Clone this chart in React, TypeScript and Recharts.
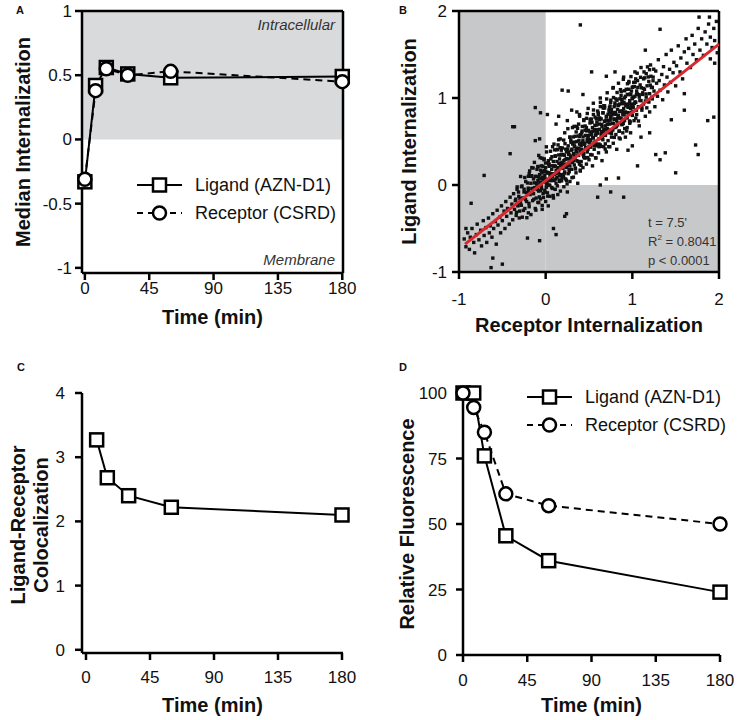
import React from 'react';
import {
  LineChart,
  Line,
  ScatterChart,
  Scatter,
  XAxis,
  YAxis,
  ReferenceArea,
  ReferenceLine,
  Legend,
  Label,
} from 'recharts';

// A, D: sampling times (min)
const timePoints = [0, 7.5, 15, 30, 60, 180];
const ligandInternalization = [-0.33, 0.42, 0.56, 0.51, 0.48, 0.49];
const receptorInternalization = [-0.31, 0.38, 0.55, 0.5, 0.53, 0.45];

// C
const colocTimes = [7.5, 15, 30, 60, 180];
const colocalization = [3.27, 2.68, 2.4, 2.22, 2.1];

// D
const ligandFluorescence = [100, 100, 76, 45.5, 36, 24];
const receptorFluorescence = [100, 94.5, 85, 61.5, 57, 50];

const timeTicks = [0, 45, 90, 135, 180];
const internalizationTicks = [-1, -0.5, 0, 0.5, 1];
const scatterTicks = [-1, 0, 1, 2];
const colocTicks = [0, 1, 2, 3, 4];
const fluorescenceTicks = [0, 25, 50, 75, 100];

// B: single cells at t = 7.5', [receptor, ligand]
const lowTail = [
  [-0.94, -0.62], [-0.92, -0.71], [-0.9, -0.55], [-0.88, -0.74], [-0.87, -0.6], [-0.85, -0.5], [-0.83, -0.66], [-0.82, -0.78], [-0.8, -0.57], [-0.79, -0.45],
  [-0.77, -0.63], [-0.75, -0.52], [-0.74, -0.7], [-0.72, -0.41], [-0.71, -0.58], [-0.69, -0.49], [-0.68, -0.66], [-0.66, -0.38], [-0.65, -0.55], [-0.64, -0.47],
  [-0.62, -0.6], [-0.61, -0.33], [-0.6, -0.5], [-0.58, -0.42], [-0.57, -0.68], [-0.56, -0.29], [-0.55, -0.46], [-0.53, -0.37], [-0.52, -0.55], [-0.51, -0.24],
  [-0.5, -0.41], [-0.48, -0.3], [-0.47, -0.5], [-0.46, -0.19], [-0.45, -0.36], [-0.44, -0.27], [-0.42, -0.45], [-0.41, -0.14], [-0.4, -0.32], [-0.39, -0.22],
  [-0.38, -0.4], [-0.37, -0.1], [-0.36, -0.28], [-0.35, -0.18], [-0.34, -0.35], [-0.33, -0.05], [-0.32, -0.24], [-0.31, -0.13], [-0.3, -0.3], [-0.29, -0.2],
  [-0.28, -0.02], [-0.27, -0.37], [-0.26, -0.15], [-0.25, -0.08], [-0.24, -0.27], [-0.23, 0.04], [-0.22, -0.19], [-0.21, -0.1], [-0.2, -0.32], [-0.2, 0.1],
];
const coreLow = [
  [-0.2, -0.06], [-0.19, -0.25], [-0.19, 0.13], [-0.18, -0.11], [-0.17, 0.02], [-0.17, -0.34], [-0.16, 0.2], [-0.16, -0.04], [-0.15, -0.18], [-0.14, 0.07],
  [-0.14, -0.1], [-0.13, 0.26], [-0.13, -0.03], [-0.12, -0.27], [-0.11, 0.1], [-0.11, -0.15], [-0.1, 0.18], [-0.1, 0.01], [-0.09, -0.2], [-0.09, 0.05],
  [-0.08, 0.34], [-0.08, -0.07], [-0.07, 0.12], [-0.06, -0.16], [-0.06, 0.03], [-0.05, 0.22], [-0.05, -0.02], [-0.04, -0.28], [-0.04, 0.09], [-0.03, 0.15],
  [-0.03, -0.1], [-0.02, 0.04], [-0.02, 0.29], [-0.01, -0.06], [-0.01, 0.11], [0, -0.19], [0, 0.07], [0, 0.2], [0.01, 0.01], [0.01, 0.38],
  [0.02, -0.09], [0.02, 0.14], [0.03, 0.06], [0.03, -0.24], [0.04, 0.24], [0.04, 0.0], [0.05, 0.11], [0.05, -0.13], [0.06, 0.3], [0.06, 0.08],
  [0.07, -0.03], [0.07, 0.18], [0.08, 0.13], [0.08, 0.44], [0.09, -0.15], [0.09, 0.05], [0.1, 0.22], [0.1, 0.12], [0.11, -0.05], [0.11, 0.33],
  [0.12, 0.17], [0.12, 0.02], [0.13, 0.27], [0.13, 0.09], [0.14, -0.11], [0.14, 0.2], [0.15, 0.52], [0.15, 0.14], [0.16, 0.04], [0.16, 0.3],
  [0.17, 0.22], [0.17, -0.07], [0.18, 0.12], [0.18, 0.4], [0.19, 0.26], [0.19, 0.08], [0.2, 0.19], [0.2, 0.35], [0.21, -0.02], [0.21, 0.28],
  [0.22, 0.15], [0.22, 0.6], [0.23, 0.24], [0.23, 0.07], [0.24, 0.38], [0.24, 0.2], [0.25, 0.3], [0.25, -0.08], [0.26, 0.13], [0.26, 0.45],
  [0.27, 0.26], [0.27, 0.35], [0.28, 0.04], [0.28, 0.22], [0.29, 0.51], [0.29, 0.31], [0.3, 0.18], [0.3, 0.4], [0.31, 0.27], [0.31, 0.66],
  [0.32, 0.09], [0.32, 0.36], [0.33, 0.45], [0.33, 0.23], [0.34, 0.32], [0.34, 0.56], [0.35, 0.14], [0.35, 0.39], [0.36, 0.28], [0.36, 0.5],
  [0.37, 0.42], [0.37, 0.02], [0.38, 0.34], [0.38, 0.7], [0.39, 0.24], [0.39, 0.47], [0.4, 0.38], [0.4, 0.58], [0.4, 0.16], [0.39, 0.81],
];
const coreHigh = [
  [0.41, 0.45], [0.41, 0.27], [0.42, 0.62], [0.42, 0.4], [0.43, 0.51], [0.43, 0.2], [0.44, 0.36], [0.44, 0.75], [0.45, 0.48], [0.45, 0.31],
  [0.46, 0.57], [0.46, 0.43], [0.47, 0.24], [0.47, 0.66], [0.48, 0.5], [0.48, 0.38], [0.49, 0.88], [0.49, 0.55], [0.5, 0.44], [0.5, 0.29],
  [0.51, 0.61], [0.51, 0.52], [0.52, 0.35], [0.52, 0.72], [0.53, 0.47], [0.53, 0.58], [0.54, 0.22], [0.54, 0.66], [0.55, 0.54], [0.55, 0.94],
  [0.56, 0.41], [0.56, 0.62], [0.57, 0.78], [0.57, 0.5], [0.58, 0.31], [0.58, 0.58], [0.59, 0.69], [0.59, 0.45], [0.6, 0.6], [0.6, 0.85],
  [0.61, 0.37], [0.61, 0.53], [0.62, 0.7], [0.62, 0.64], [0.63, 0.46], [0.63, 1.0], [0.64, 0.58], [0.64, 0.76], [0.65, 0.28], [0.65, 0.67],
  [0.66, 0.52], [0.66, 0.83], [0.67, 0.62], [0.67, 0.44], [0.68, 0.73], [0.68, 0.91], [0.69, 0.57], [0.69, 0.68], [0.7, 0.38], [0.7, 0.79],
  [0.71, 0.65], [0.71, 1.06], [0.72, 0.51], [0.72, 0.74], [0.73, 0.86], [0.73, 0.6], [0.74, 0.7], [0.74, 0.44], [0.75, 0.95], [0.75, 0.77],
  [0.76, 0.63], [0.76, 0.55], [0.77, 0.82], [0.77, 0.71], [0.78, 1.12], [0.78, 0.48], [0.79, 0.76], [0.79, 0.9], [0.8, 0.66], [0.8, 0.83],
  [0.81, 0.58], [0.81, 0.99], [0.82, 0.74], [0.82, 0.41], [0.83, 0.87], [0.83, 0.69], [0.84, 0.8], [0.84, 1.17], [0.85, 0.62], [0.85, 0.93],
  [0.86, 0.77], [0.86, 0.53], [0.87, 1.03], [0.87, 0.85], [0.88, 0.7], [0.88, 0.96], [0.89, 0.81], [0.89, 0.6], [0.9, 1.24], [0.9, 0.88],
  [0.91, 0.74], [0.91, 1.0], [0.92, 0.84], [0.92, 0.55], [0.93, 0.93], [0.93, 1.1], [0.94, 0.78], [0.94, 0.66], [0.95, 1.04], [0.95, 0.9],
  [0.96, 0.82], [0.96, 1.19], [0.97, 0.71], [0.97, 0.97], [0.98, 0.88], [0.98, 0.6], [0.99, 1.08], [0.99, 0.93], [1.0, 0.8], [1.0, 1.0],
];
const coreFill = [
  [-0.345, -0.163], [-0.337, -0.314], [-0.329, -0.022], [-0.321, -0.228], [-0.313, -0.081], [-0.305, -0.379], [-0.297, -0.153], [-0.289, 0.098],
  [-0.281, -0.233], [-0.273, -0.011], [-0.265, -0.152], [-0.257, -0.292], [-0.249, -0.048], [-0.241, 0.086], [-0.233, -0.168], [-0.225, -0.086],
  [-0.217, -0.376], [-0.209, 0.023], [-0.201, -0.036], [-0.193, -0.211], [-0.185, 0.162], [-0.177, -0.09], [-0.169, 0.1],
  [-0.161, 0.107], [-0.153, -0.07], [-0.145, 0.195], [-0.137, -0.164], [-0.129, 0.025], [-0.121, 0.097], [-0.113, -0.289], [-0.105, 0.015],
  [-0.097, -0.053], [-0.089, 0.213], [-0.081, 0.093], [-0.073, -0.137], [-0.065, 0.016], [-0.057, 0.17], [-0.049, -0.038], [-0.041, 0.307],
  [-0.033, 0.068], [-0.025, -0.144], [-0.017, 0.168], [-0.009, 0.034], [-0.001, 0.253], [0.007, -0.025], [0.015, 0.14],
  [0.023, 0.146], [0.031, 0.28], [0.039, 0.215], [0.047, 0.135], [0.055, 0.049], [0.063, 0.124], [0.071, 0.221], [0.079, 0.094],
  [0.087, -0.121], [0.095, 0.213], [0.103, 0.404], [0.111, 0.335], [0.119, 0.069], [0.127, 0.149], [0.135, -0.01], [0.143, 0.461],
  [0.151, 0.345], [0.159, 0.058], [0.167, 0.428], [0.175, 0.25], [0.183, 0.353], [0.191, 0.111], [0.199, 0.226],
  [0.207, 0.098], [0.215, 0.342], [0.223, 0.475], [0.231, 0.222], [0.239, 0.304], [0.247, 0.013], [0.255, 0.413], [0.263, 0.354],
  [0.271, 0.179], [0.279, 0.551], [0.287, 0.3], [0.295, 0.49], [0.303, 0.412], [0.311, 0.26], [0.319, 0.552], [0.327, 0.347],
  [0.335, 0.493], [0.343, 0.195], [0.351, 0.421], [0.359, 0.673], [0.367, 0.341], [0.375, 0.563], [0.383, 0.423],
  [0.391, 0.557], [0.399, 0.171], [0.407, 0.475], [0.415, 0.407], [0.423, 0.673], [0.431, 0.553], [0.439, 0.323], [0.447, 0.476],
  [0.455, 0.63], [0.463, 0.422], [0.471, 0.767], [0.479, 0.528], [0.487, 0.316], [0.495, 0.628], [0.503, 0.495], [0.511, 0.713],
  [0.519, 0.435], [0.527, 0.6], [0.535, 0.721], [0.543, 0.545], [0.551, 0.81], [0.559, 0.451], [0.567, 0.639],
  [0.575, 0.572], [0.583, 0.471], [0.591, 0.725], [0.599, 0.636], [0.607, 0.828], [0.615, 0.471], [0.623, 0.771], [0.631, 0.901],
  [0.639, 0.444], [0.647, 0.615], [0.655, 0.549], [0.663, 0.829], [0.671, 0.911], [0.679, 0.733], [0.687, 0.413], [0.695, 0.642],
  [0.703, 0.782], [0.711, 0.698], [0.719, 0.637], [0.727, 0.737], [0.735, 0.829], [0.743, 0.908], [0.751, 0.788],
  [0.759, 0.867], [0.767, 0.807], [0.775, 0.632], [0.783, 1.005], [0.791, 0.753], [0.799, 0.943], [0.807, 0.835], [0.815, 0.684],
  [0.823, 0.975], [0.831, 0.77], [0.839, 0.917], [0.847, 0.618], [0.855, 0.844], [0.863, 1.096], [0.871, 0.765], [0.879, 0.986],
  [0.887, 0.846], [0.895, 0.706], [0.903, 0.95], [0.911, 1.083], [0.919, 0.83], [0.927, 0.912], [0.935, 0.621],
  [0.943, 1.04], [0.951, 0.832], [0.959, 1.177], [0.967, 0.938], [0.975, 0.726], [0.983, 1.038], [0.991, 0.904], [0.999, 1.123],
  [1.007, 0.845], [1.015, 1.01], [1.023, 1.131], [1.031, 0.955], [1.039, 1.22], [1.047, 0.86], [1.055, 1.049], [1.063, 1.122],
  [1.071, 0.736], [1.079, 1.039], [1.087, 0.971], [1.095, 1.238], [1.103, 1.118], [1.111, 0.887], [1.119, 1.041],
  [1.127, 1.11], [1.135, 1.3], [1.143, 1.232], [1.151, 0.966], [1.159, 1.046], [1.167, 0.887], [1.175, 1.358], [1.183, 1.242],
  [1.191, 0.954], [1.199, 1.325], [1.207, 1.147], [1.215, 1.25], [1.223, 1.008], [1.231, 1.123], [1.239, 1.198], [1.247, 1.331],
];
const coreDense = [
  [-0.096, -0.033], [-0.088, 0.21], [-0.08, -0.202], [-0.072, 0.071], [-0.064, 0.314], [-0.056, -0.064], [-0.048, 0.139], [-0.04, -0.235],
  [-0.032, 0.215], [-0.024, 0.071], [-0.016, 0.3], [-0.008, -0.083], [0.0, 0.158], [0.008, 0.439], [0.016, 0.03], [0.024, -0.128],
  [0.032, 0.244], [0.04, 0.138], [0.048, -0.005], [0.056, 0.388], [0.064, 0.116], [0.072, 0.325], [0.08, -0.04], [0.088, 0.27],
  [0.096, 0.47], [0.104, 0.058], [0.112, 0.216], [0.12, 0.132], [0.128, 0.404],
  [0.136, 0.41], [0.144, 0.152], [0.152, 0.25], [0.16, 0.105], [0.168, 0.53], [0.176, 0.344], [0.184, 0.048], [0.192, 0.426],
  [0.2, 0.23], [0.208, 0.516], [0.216, 0.136], [0.224, 0.292], [0.232, 0.412], [0.24, 0.054], [0.248, 0.225], [0.256, 0.647],
  [0.264, 0.38], [0.272, 0.152], [0.28, 0.548], [0.288, 0.333], [0.296, 0.491], [0.304, 0.084], [0.312, 0.471], [0.32, 0.282],
  [0.328, 0.674], [0.336, 0.443], [0.344, 0.184], [0.352, 0.61], [0.36, 0.38],
  [0.368, 0.652], [0.376, 0.27], [0.384, 0.511], [0.392, 0.791], [0.4, 0.383], [0.408, 0.225], [0.416, 0.596], [0.424, 0.49],
  [0.432, 0.348], [0.44, 0.741], [0.448, 0.468], [0.456, 0.678], [0.464, 0.313], [0.472, 0.622], [0.48, 0.822], [0.488, 0.411],
  [0.496, 0.569], [0.504, 0.484], [0.512, 0.756], [0.52, 0.515], [0.528, 0.758], [0.536, 0.345], [0.544, 0.618], [0.552, 0.862],
  [0.56, 0.483], [0.568, 0.686], [0.576, 0.313], [0.584, 0.763], [0.592, 0.618],
  [0.6, 0.596], [0.608, 0.806], [0.616, 0.44], [0.624, 0.75], [0.632, 0.95], [0.64, 0.539], [0.648, 0.696], [0.656, 0.612],
  [0.664, 0.884], [0.672, 0.642], [0.68, 0.885], [0.688, 0.473], [0.696, 0.746], [0.704, 0.989], [0.712, 0.611], [0.72, 0.814],
  [0.728, 0.441], [0.736, 0.89], [0.744, 0.746], [0.752, 0.975], [0.76, 0.592], [0.768, 0.833], [0.776, 1.114], [0.784, 0.706],
  [0.792, 0.547], [0.8, 0.919], [0.808, 0.813], [0.816, 0.67], [0.824, 1.063],
  [0.832, 0.712], [0.84, 0.915], [0.848, 0.541], [0.856, 0.991], [0.864, 0.847], [0.872, 1.075], [0.88, 0.693], [0.888, 0.934],
  [0.896, 1.215], [0.904, 0.806], [0.912, 0.648], [0.92, 1.02], [0.928, 0.914], [0.936, 0.771], [0.944, 1.164], [0.952, 0.892],
  [0.96, 1.101], [0.968, 0.736], [0.976, 1.046], [0.984, 1.246], [0.992, 0.834], [1.0, 0.992], [1.008, 0.908], [1.016, 1.179],
  [1.024, 0.938], [1.032, 1.181], [1.04, 0.769], [1.048, 1.041], [1.056, 1.285],
];
const highTail = [
  [1.01, 0.89], [1.01, 1.13], [1.02, 0.74], [1.03, 1.02], [1.03, 1.3], [1.04, 0.95], [1.05, 0.81], [1.05, 1.08], [1.06, 1.2], [1.07, 0.9],
  [1.08, 1.01], [1.08, 0.68], [1.09, 1.15], [1.1, 0.97], [1.1, 1.35], [1.11, 0.86], [1.12, 1.06], [1.13, 1.22], [1.13, 0.93], [1.14, 1.1],
  [1.15, 0.79], [1.16, 1.01], [1.16, 1.28], [1.17, 1.14], [1.18, 0.96], [1.19, 1.19], [1.2, 1.05], [1.2, 0.84], [1.21, 1.38], [1.22, 1.12],
  [1.23, 0.99], [1.24, 1.24], [1.25, 1.08], [1.26, 0.9], [1.27, 1.31], [1.28, 1.17], [1.29, 1.02], [1.3, 1.44], [1.31, 1.2], [1.32, 1.09],
  [1.34, 1.27], [1.35, 0.98], [1.36, 1.36], [1.37, 1.15], [1.39, 1.5], [1.4, 1.24], [1.41, 1.07], [1.43, 1.33], [1.44, 1.18], [1.45, 1.55],
  [1.47, 1.29], [1.48, 1.41], [1.5, 1.14], [1.51, 1.37], [1.53, 1.6], [1.55, 1.3], [1.56, 1.46], [1.58, 1.22], [1.6, 1.53], [1.62, 1.68],
  [1.63, 1.4], [1.65, 1.57], [1.67, 1.35], [1.69, 1.72], [1.7, 1.5], [1.72, 1.62], [1.74, 1.44], [1.76, 1.8], [1.78, 1.55], [1.8, 1.68],
  [1.82, 1.49], [1.84, 1.76], [1.86, 1.62], [1.88, 1.85], [1.9, 1.7], [1.92, 1.58], [1.94, 1.8], [1.95, 1.66], [1.97, 1.88], [1.98, 1.52],
];
const strays = [
  [0.4, 1.84], [0.19, 1.09], [0.26, 1.08], [0.43, 1.04], [-0.12, 0.89], [-0.06, 0.83], [0.02, 0.81], [-0.36, 0.67], [-0.38, 0.67], [-0.07, 0.53],
  [-0.12, 0.51], [0.15, 0.79], [0.25, 0.74], [0.12, 0.7], [0.3, 0.86], [0.36, 0.84], [1.32, 1.79], [1.77, 1.93], [1.89, 1.93], [1.87, 0.74],
  [0.53, 1.3], [1.73, 0.46], [1.76, 0.35], [1.5, 0.14], [1.27, 0.35], [1.32, 0.29], [1.38, 0.37], [1.06, 0.22], [0.6, -0.14], [0.75, -0.08],
  [0.9, -0.14], [0.63, 0.0], [0.7, 0.07], [0.84, 0.08], [-0.61, -0.84], [-0.63, -0.95], [-0.5, -0.91], [-0.86, -0.21], [-0.71, 0.11], [-0.41, 0.36],
  [-0.92, -0.5], [0.09, -0.5], [0.12, -0.57], [0.22, -0.36], [0.24, -0.33], [-0.07, -0.64], [-0.21, -0.61], [1.1, 0.55], [1.2, 0.6], [1.45, 0.75],
  [1.6, 1.05], [1.0, 0.45], [0.95, 0.4], [1.15, 1.55], [0.8, 1.3], [0.7, 1.25], [1.9, 1.45], [1.95, 1.4], [1.6, 0.86], [1.94, 0.78],
];

// regression line ends
const fitX = [-0.93, 2];
const fitY = [-0.68, 1.62];

const panelA = timePoints.map((t, i) => ({ t, ligand: ligandInternalization[i], receptor: receptorInternalization[i] }));
const panelC = colocTimes.map((t, i) => ({ t, coloc: colocalization[i] }));
const panelD = timePoints.map((t, i) => ({ t, ligand: ligandFluorescence[i], receptor: receptorFluorescence[i] }));
const cells = [...lowTail, ...coreLow, ...coreHigh, ...coreFill, ...coreDense, ...highTail, ...strays].map(([x, y]) => ({ x, y }));
const fit = fitX.map((x, i) => ({ x, y: fitY[i] }));

const FONT = '"Liberation Sans", Arial, Helvetica, sans-serif';
const tickStyle = { fontSize: 17, fill: '#111', fontFamily: FONT };
const axisStroke = { stroke: '#000', strokeWidth: 2.5 };
const titleStyle = { fontSize: 20, fontWeight: 700, fill: '#111', fontFamily: FONT };

const squareDot = (p: any) => (
  <rect key={`sq-${p.index}`} x={p.cx - 6.5} y={p.cy - 6.5} width={13} height={13} fill="#fff" stroke="#000" strokeWidth={2.5} />
);
const circleDot = (p: any) => (
  <circle key={`ci-${p.index}`} cx={p.cx} cy={p.cy} r={6.5} fill="#fff" stroke="#000" strokeWidth={2.5} />
);
const cellDot = (p: any) => <rect x={p.cx - 1.7} y={p.cy - 1.7} width={3.4} height={3.4} fill="#111" />;

const SeriesKey = () => (
  <svg width={215} height={48} style={{ overflow: 'visible', display: 'block' }}>
    <line x1={0} x2={45} y1={9} y2={9} stroke="#000" strokeWidth={2} />
    <rect x={16} y={2.5} width={13} height={13} fill="#fff" stroke="#000" strokeWidth={2.5} />
    <text x={58} y={9} dominantBaseline="central" fontSize={18} fill="#111" fontFamily={FONT}>
      Ligand (AZN-D1)
    </text>
    <line x1={0} x2={45} y1={37} y2={37} stroke="#000" strokeWidth={2} strokeDasharray="6 5" />
    <circle cx={22.5} cy={37} r={6.5} fill="#fff" stroke="#000" strokeWidth={2.5} />
    <text x={58} y={37} dominantBaseline="central" fontSize={18} fill="#111" fontFamily={FONT}>
      Receptor (CSRD)
    </text>
  </svg>
);

const ColocTitle = (props: any) => {
  const vb = props.viewBox || { x: 0, y: 33, width: 82, height: 260 };
  const cy = vb.y + vb.height / 2 + 2;
  return (
    <g>
      <text x={18} y={cy} transform={`rotate(-90 18 ${cy})`} textAnchor="middle" dominantBaseline="central" {...titleStyle}>
        Ligand-Receptor
      </text>
      <text x={41} y={cy} transform={`rotate(-90 41 ${cy})`} textAnchor="middle" dominantBaseline="central" {...titleStyle}>
        Colocalization
      </text>
    </g>
  );
};

const letter = (ch: string, left: number, top: number) => (
  <div style={{ position: 'absolute', left, top, fontSize: 11, fontWeight: 700, lineHeight: '11px', color: '#111' }}>{ch}</div>
);

export default function App() {
  return (
    <div style={{ position: 'absolute', left: 0, top: 0, width: 743, height: 720, background: '#fff', fontFamily: FONT }}>
      {/* A */}
      <div style={{ position: 'absolute', left: 0, top: 0 }}>
        <LineChart width={371} height={360} data={panelA} margin={{ top: 11, right: 28, bottom: 0, left: 0 }}>
          <ReferenceArea
            x1={-2}
            x2={180.5}
            y1={0}
            y2={1}
            fill="#d9dadc"
            fillOpacity={1}
            stroke="none"
            label={{ value: 'Intracellular', position: 'insideTopRight', offset: 8, fontSize: 15, fill: '#333', fontFamily: FONT, style: { fontStyle: 'italic' } }}
          />
          <ReferenceArea
            x1={-2}
            x2={180.5}
            y1={-1.04}
            y2={0}
            fill="none"
            stroke="none"
            label={{ value: 'Membrane', position: 'insideBottomRight', offset: 8, fontSize: 15, fill: '#333', fontFamily: FONT, style: { fontStyle: 'italic' } }}
          />
          <XAxis
            dataKey="t"
            type="number"
            domain={[-2, 180.5]}
            ticks={timeTicks}
            interval={0}
            height={87}
            tick={tickStyle}
            tickSize={7}
            tickMargin={2}
            axisLine={axisStroke}
            tickLine={axisStroke}
          >
            <Label value="Time (min)" position="insideBottom" offset={36} style={titleStyle} />
          </XAxis>
          <YAxis
            type="number"
            domain={[-1.04, 1]}
            ticks={internalizationTicks}
            interval={0}
            width={82}
            tick={tickStyle}
            tickSize={7}
            tickMargin={3}
            axisLine={axisStroke}
            tickLine={axisStroke}
          >
            <Label value="Median Internalization" angle={-90} position="insideLeft" offset={23} style={{ ...titleStyle, textAnchor: 'middle' }} />
          </YAxis>
          <ReferenceLine y={1} stroke="#000" strokeWidth={2.5} />
          <ReferenceLine x={180.5} stroke="#000" strokeWidth={2.5} />
          <Line dataKey="ligand" stroke="#000" strokeWidth={2} dot={squareDot} activeDot={false} isAnimationActive={false} />
          <Line dataKey="receptor" stroke="#000" strokeWidth={2} strokeDasharray="7 5" dot={circleDot} activeDot={false} isAnimationActive={false} />
          <Legend verticalAlign="middle" align="center" content={() => <SeriesKey />} wrapperStyle={{ left: 137, top: 176, width: 215 }} />
        </LineChart>
      </div>

      {/* B */}
      <div style={{ position: 'absolute', left: 372, top: 0 }}>
        <ScatterChart width={371} height={360} margin={{ top: 11, right: 24, bottom: 0, left: 0 }}>
          <ReferenceArea x1={-1} x2={0} y1={-1} y2={2} fill="#c7c8ca" fillOpacity={1} stroke="none" />
          <ReferenceArea x1={0} x2={2} y1={-1} y2={0} fill="#c7c8ca" fillOpacity={1} stroke="none" />
          <XAxis
            dataKey="x"
            type="number"
            domain={[-1, 2]}
            allowDataOverflow
            ticks={scatterTicks}
            interval={0}
            height={88}
            tick={tickStyle}
            tickSize={7}
            tickMargin={14}
            axisLine={axisStroke}
            tickLine={axisStroke}
          >
            <Label value="Receptor Internalization" position="insideBottom" offset={28} style={titleStyle} />
          </XAxis>
          <YAxis
            dataKey="y"
            type="number"
            domain={[-1, 2]}
            allowDataOverflow
            ticks={scatterTicks}
            interval={0}
            width={87}
            tick={tickStyle}
            tickSize={7}
            tickMargin={5}
            axisLine={axisStroke}
            tickLine={axisStroke}
          >
            <Label value="Ligand Internalization" angle={-90} position="insideLeft" offset={37} style={{ ...titleStyle, textAnchor: 'middle' }} />
          </YAxis>
          <ReferenceLine y={2} stroke="#000" strokeWidth={2.5} />
          <ReferenceLine x={2} stroke="#000" strokeWidth={2.5} />
          <Scatter data={cells} shape={cellDot} isAnimationActive={false} />
          <Scatter data={fit} fill="#d7282f" line={{ stroke: '#d7282f', strokeWidth: 3 }} shape={() => <g />} isAnimationActive={false} />
        </ScatterChart>
      </div>

      {/* C */}
      <div style={{ position: 'absolute', left: 0, top: 360 }}>
        <LineChart width={371} height={360} data={panelC} margin={{ top: 33, right: 28, bottom: 0, left: 0 }}>
          <XAxis
            dataKey="t"
            type="number"
            domain={[-2.8, 180.7]}
            ticks={timeTicks}
            interval={0}
            height={67}
            tick={tickStyle}
            tickSize={7}
            tickMargin={11}
            axisLine={axisStroke}
            tickLine={axisStroke}
          >
            <Label value="Time (min)" position="insideBottom" offset={8} style={titleStyle} />
          </XAxis>
          <YAxis
            type="number"
            domain={[-0.05, 4]}
            ticks={colocTicks}
            interval={0}
            width={82}
            tick={tickStyle}
            tickSize={7}
            tickMargin={10}
            axisLine={axisStroke}
            tickLine={axisStroke}
          >
            <Label content={ColocTitle} />
          </YAxis>
          <Line dataKey="coloc" stroke="#000" strokeWidth={2} dot={squareDot} activeDot={false} isAnimationActive={false} />
        </LineChart>
      </div>

      {/* D */}
      <div style={{ position: 'absolute', left: 372, top: 360 }}>
        <LineChart width={371} height={360} data={panelD} margin={{ top: 33, right: 23, bottom: 0, left: 0 }}>
          <XAxis
            dataKey="t"
            type="number"
            domain={[0, 180]}
            ticks={timeTicks}
            interval={0}
            height={65}
            tick={tickStyle}
            tickSize={7}
            tickMargin={12}
            axisLine={axisStroke}
            tickLine={axisStroke}
          >
            <Label value="Time (min)" position="insideBottom" offset={8} style={titleStyle} />
          </XAxis>
          <YAxis
            type="number"
            domain={[0, 100]}
            ticks={fluorescenceTicks}
            interval={0}
            width={91}
            tick={tickStyle}
            tickSize={7}
            tickMargin={9}
            axisLine={axisStroke}
            tickLine={axisStroke}
          >
            <Label value="Relative Fluorescence" angle={-90} position="insideLeft" offset={35} style={{ ...titleStyle, textAnchor: 'middle' }} />
          </YAxis>
          <Line dataKey="ligand" stroke="#000" strokeWidth={2} dot={squareDot} activeDot={false} isAnimationActive={false} />
          <Line dataKey="receptor" stroke="#000" strokeWidth={2} strokeDasharray="7 5" dot={circleDot} activeDot={false} isAnimationActive={false} />
          <Legend verticalAlign="middle" align="center" content={() => <SeriesKey />} wrapperStyle={{ left: 155, top: 28, width: 215 }} />
        </LineChart>
      </div>

      {letter('A', 16, 5)}
      {letter('B', 399, 5)}
      {letter('C', 17, 362)}
      {letter('D', 399, 362)}

      <div style={{ position: 'absolute', left: 648, top: 213, fontSize: 13, lineHeight: '19px', color: '#333' }}>
        <div>t = 7.5'</div>
        <div>
          R<sup style={{ fontSize: 8, verticalAlign: 'top', lineHeight: '12px' }}>2</sup> = 0.8041
        </div>
        <div>p &lt; 0.0001</div>
      </div>
    </div>
  );
}
